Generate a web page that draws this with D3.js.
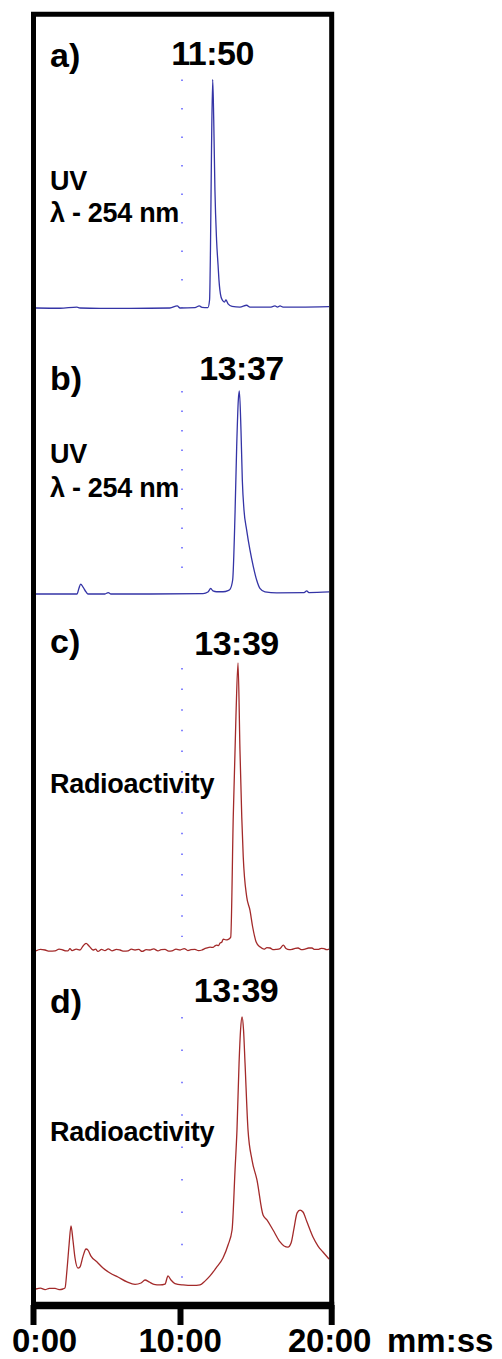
<!DOCTYPE html>
<html><head><meta charset="utf-8">
<script src="https://cdn.jsdelivr.net/npm/d3@7"></script>
<style>
html,body{margin:0;padding:0;background:#fff;}
svg{display:block;}
text{font-family:"Liberation Sans",Arial,Helvetica,sans-serif;font-weight:bold;fill:#000;}
</style></head>
<body>
<svg id="chart" width="502" height="1359"></svg>
<script>
// ---- data (time in minutes, intensity in % of main peak) ----
const timesA  = [0.2,1.81,2.95,3.15,4.5,6.51,9.19,9.68,9.87,10.87,11.16,11.34,11.74,11.85,11.91,11.98,12.06,12.13,12.21,12.32,12.42,12.48,12.62,12.75,12.85,12.95,13.09,13.36,13.89,14.34,14.56,15.91,16.24,16.41,16.58,16.78,17.92,19.87];
const valuesA = [0,-0.1,0.4,0,-0.2,-0.2,0,0.9,0,0.2,0.9,0.3,0.2,3.5,25.4,69.1,100,82.3,51.6,29.8,18.8,12.3,4.8,3.1,2.6,3.5,1.8,0.7,0.4,1.2,0.4,0.4,0.9,0.4,0.9,0.4,0.4,0.6];

const timesB  = [0.2,2.95,3.09,3.2,3.36,3.56,3.69,4.83,5.05,5.23,7.85,11.41,11.74,11.93,12.08,12.33,12.75,13.09,13.22,13.4,13.56,13.67,13.78,13.85,13.96,14.05,14.16,14.34,14.56,14.79,15.01,15.23,15.57,16.36,18.19,18.37,18.52,19.87];
const valuesB = [0,0,3.0,4.9,3.4,1.0,0,0,0.7,0,0,0.2,1.0,2.7,1.5,1.1,1.1,1.7,2.3,6.9,39.9,72.6,95.6,100,80.4,55.8,41.4,31.5,21.7,13.4,6.9,2.8,1.1,0.6,0.7,1.5,0.7,1.0];

const timesC  = [0.2,0.5,0.81,1.1,1.48,1.75,2.01,2.2,2.35,2.48,2.62,2.9,3.15,3.36,3.56,3.76,4.03,4.2,4.36,4.6,4.83,5.05,5.3,5.6,5.84,6.1,6.38,6.6,6.85,7.1,7.32,7.6,7.85,8.1,8.39,8.6,8.86,9.1,9.33,9.6,9.87,10.15,10.4,10.6,10.87,11.1,11.34,11.5,11.68,11.88,12.08,12.2,12.33,12.45,12.55,12.68,12.77,12.95,13.11,13.27,13.44,13.62,13.76,13.89,14.01,14.11,14.34,14.56,14.74,14.97,15.23,15.5,15.7,15.91,16.1,16.31,16.58,16.8,16.98,17.2,17.38,17.6,17.79,18.0,18.26,18.5,18.72,18.9,19.13,19.35,19.53,19.7,19.87];
const valuesC = [-0.3,0.2,0,-0.4,-0.3,0.3,0,-0.3,-0.3,0.5,-0.2,0.3,0,1.4,2.3,1.4,0,0.3,-0.5,0.2,-0.2,0.4,-0.3,0.2,0,-0.4,-0.3,0.3,0,0.2,-0.5,0.1,0,0.4,-0.3,0.1,0.2,-0.4,-0.3,0.3,0,0.5,-0.2,0.1,0.2,-0.2,0,0.4,0.7,1.0,0.9,1.4,1.7,1.5,2.4,2.8,3.8,3.5,3.7,4.5,46.4,81.3,100,69.7,46.4,32.5,18.6,13.9,8.1,2.9,1.1,0.3,0.8,0.7,0.1,0.2,0.5,1.7,0.5,0.1,0.2,0.6,0.7,0.1,0.3,0.7,0.7,0.2,0.2,0.6,0.5,0.1,0.3];

const timesD  = [0.2,0.5,0.81,1.1,1.48,1.75,2.01,2.15,2.28,2.42,2.55,2.68,2.82,3.02,3.15,3.36,3.56,3.69,3.89,4.3,4.7,5.17,5.7,6.31,6.85,7.25,7.52,7.79,8.12,8.52,8.86,9.06,9.26,9.53,10.07,10.74,11.21,11.54,11.88,12.28,12.75,13.09,13.36,13.56,13.69,13.83,13.93,14.03,14.13,14.23,14.43,14.7,15.03,15.44,15.7,16.11,16.58,16.85,17.11,17.32,17.52,17.72,17.92,18.12,18.39,18.79,19.13,19.46,19.87];
const valuesD = [0,0.3,-0.2,0.2,0.2,-0.2,0,0.4,7,16.2,23.2,18,11.4,7.7,8.1,12.1,14.7,14.3,12.1,9.9,7.7,5.9,4.4,2.6,1.7,2.2,3.3,2.6,1.7,1.5,1.8,4.8,3.3,2.0,1.5,1.3,1.5,2.9,4.8,7.7,11.4,16.2,21.7,43.8,58.5,83.1,95.2,100,95.2,83.1,58.5,47.4,40.1,27.2,25.4,21.7,17.3,15.8,15.4,16.9,22.4,27.9,29,28.3,24.6,19.1,15.8,13.6,11];

const panelLetters = ["a)","b)","c)","d)"];
const peakLabels   = ["11:50","13:37","13:39","13:39"];
const detectorLabels = [["UV","λ - 254 nm"],["UV","λ - 254 nm"],["Radioactivity"],["Radioactivity"]];
const xTickValues = [0,10,20];
const xTickLabels = ["0:00","10:00","20:00"];
const xUnit = "mm:ss";

// ---- layout ----
const svg = d3.select("#chart");
const x = d3.scaleLinear().domain([0,20]).range([33,331]);
const UV = "#3434a6", RAD = "#a32a2a", GRID = "#5c5cff";

const panels = [
  {t:timesA, v:valuesA, color:UV,  base:308, peak:79.5, dot:28.5, letterY:67,   peakX:212.5, peakY:65,   detY:[190,222]},
  {t:timesB, v:valuesB, color:UV,  base:594, peak:391,  dot:19.5, letterY:390,  peakX:241.5, peakY:380,  detY:[463,497], gridBottom:586},
  {t:timesC, v:valuesC, color:RAD, base:950, peak:663,  dot:20.6, letterY:653,  peakX:236.5, peakY:655,  detY:[793], gridTop:668, gridBottom:937},
  {t:timesD, v:valuesD, color:RAD, base:1289,peak:1017, dot:32.4, letterY:1013, peakX:236,   peakY:1002, detY:[1141], gridBottom:1290}
];

panels.forEach((p,i)=>{
  const y = d3.scaleLinear().domain([0,100]).range([p.base,p.peak]);
  const g = svg.append("g");
  const gTop = p.gridTop !== undefined ? p.gridTop : p.peak;
  const gBot = p.gridBottom !== undefined ? p.gridBottom : p.base;
  g.append("line")
    .attr("x1",x(10)).attr("x2",x(10))
    .attr("y1",gTop).attr("y2",gBot)
    .attr("stroke",GRID).attr("stroke-width",1.5)
    .attr("stroke-dasharray",`1.5,${p.dot-1.5}`);
  const pts = p.t.map((t,k)=>[t,p.v[k]]);
  g.append("path")
    .datum(pts)
    .attr("d", d3.line().curve(d3.curveMonotoneX).x(d=>x(d[0])).y(d=>y(d[1])))
    .attr("fill","none").attr("stroke",p.color).attr("stroke-width",1.3)
    .attr("stroke-linejoin","round");
  g.append("text").attr("x",50).attr("y",p.letterY)
    .attr("font-size",34).text(panelLetters[i]);
  g.append("text").attr("x",p.peakX).attr("y",p.peakY)
    .attr("font-size",34).attr("text-anchor","middle").attr("letter-spacing",-0.5)
    .text(peakLabels[i]);
  detectorLabels[i].forEach((s,k)=>{
    g.append("text").attr("x",50).attr("y",p.detY[k])
      .attr("font-size",27).attr("letter-spacing",-0.3).text(s);
  });
});

// frame
svg.append("path")
  .attr("d",`M${x(0)+0.5},1305 V14.2 H${x(20)+0.7} V1305`)
  .attr("fill","none").attr("stroke","#000").attr("stroke-width",5)
  .attr("stroke-linejoin","miter");
svg.append("line").attr("x1",x(0)-2).attr("x2",x(20)+3.2)
  .attr("y1",1305.5).attr("y2",1305.5)
  .attr("stroke","#000").attr("stroke-width",7.5);

// x ticks & labels
const tickDx = [11.5,-2,-1.5];
const tickLineDx = [0.5,-1.5,0.7];
xTickValues.forEach((t,k)=>{
  svg.append("line").attr("x1",x(t)+tickLineDx[k]).attr("x2",x(t)+tickLineDx[k])
    .attr("y1",1305).attr("y2",1325)
    .attr("stroke","#000").attr("stroke-width",6);
  svg.append("text").attr("x",x(t)+tickDx[k]).attr("y",1352)
    .attr("font-size",33).attr("text-anchor","middle").attr("letter-spacing",-0.3)
    .text(xTickLabels[k]);
});
svg.append("text").attr("x",387).attr("y",1352).attr("font-size",33).text(xUnit);
</script>
</body></html>
